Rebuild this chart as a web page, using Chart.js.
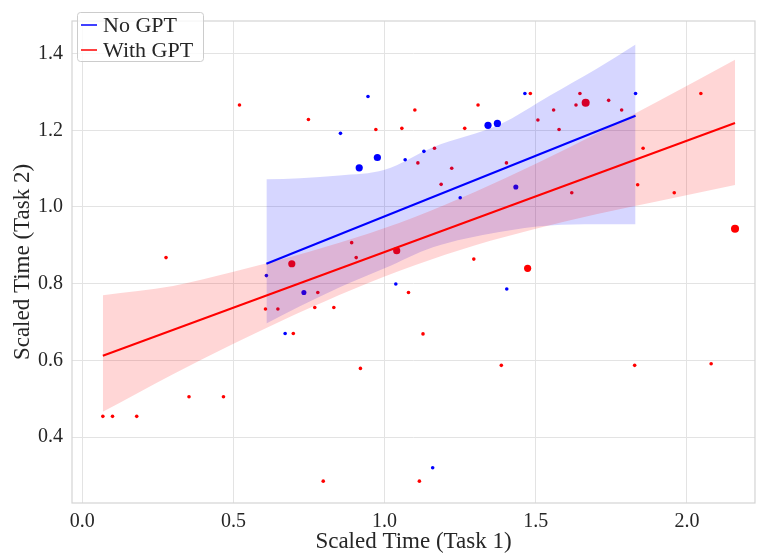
<!DOCTYPE html>
<html>
<head>
<meta charset="utf-8">
<script src="https://cdn.jsdelivr.net/npm/chart.js@4.4.1/dist/chart.umd.min.js"></script>
<style>
  body { margin: 0; background: #fff; }
  #wrap { width: 759px; height: 557px; }
</style>
</head>
<body>
<div id="wrap"><canvas id="scatterTasks"></canvas></div>
<script>
// scaled times
const noGptX = [0.945, 0.854, 1.464, 1.342, 1.373, 0.976, 0.916, 1.068, 1.130, 1.434, 1.250, 1.830, 0.609, 0.733, 0.671, 1.037, 1.404, 1.159];
const noGptY = [1.288, 1.192, 1.296, 1.213, 1.218, 1.129, 1.102, 1.123, 1.145, 1.052, 1.024, 1.296, 0.821, 0.777, 0.670, 0.799, 0.786, 0.320];
const noGptW = [1, 1, 1, 4, 4, 4, 4, 1, 1, 2, 1, 1, 1, 2, 1, 1, 1, 1];

const withGptX = [0.520, 0.748, 0.971, 1.057, 1.100, 1.309, 1.482, 1.265, 1.507, 1.165, 1.110, 1.222, 1.187, 1.403,
                  1.646, 1.633, 1.665, 1.741, 1.559, 1.784, 2.046, 1.577, 1.855, 1.837, 1.619, 1.958, 0.277, 0.693,
                  0.606, 0.647, 0.698, 0.891, 0.906, 1.040, 1.295, 1.473, 0.779, 0.769, 0.832, 1.079, 1.127, 0.920,
                  1.386, 2.159, 1.827, 2.080, 0.068, 0.100, 0.180, 0.353, 0.467, 0.797, 1.115];
const withGptY = [1.266, 1.228, 1.202, 1.205, 1.253, 1.266, 1.296, 1.205, 1.227, 1.153, 1.115, 1.101, 1.059, 1.115,
                  1.296, 1.266, 1.272, 1.278, 1.253, 1.253, 1.296, 1.202, 1.153, 1.058, 1.037, 1.037, 0.868, 0.852,
                  0.734, 0.734, 0.670, 0.907, 0.868, 0.886, 0.864, 0.840, 0.777, 0.738, 0.738, 0.777, 0.669, 0.579,
                  0.587, 0.943, 0.587, 0.591, 0.454, 0.454, 0.454, 0.505, 0.505, 0.285, 0.285];
const withGptW = [1, 1, 1, 1, 1, 1, 1, 1, 1, 1, 1, 1, 1, 1,
                  1, 1, 5, 1, 1, 1, 1, 1, 1, 1, 1, 1, 1, 4,
                  1, 1, 1, 1, 1, 4, 1, 4, 1, 1, 1, 1, 1, 1,
                  1, 5, 1, 1, 1, 1, 1, 1, 1, 1, 1];

// regression fits
const noGptFitX = [0.609, 1.830];
const noGptFitY = [0.852, 1.238];
const withGptFitX = [0.068, 2.159];
const withGptFitY = [0.612, 1.219];

// confidence bands
const noGptBandX = [0.609, 0.720, 0.850, 1.000, 1.160, 1.380, 1.547, 1.700, 1.830];
const noGptUpper = [1.072, 1.075, 1.082, 1.097, 1.156, 1.215, 1.291, 1.360, 1.424];
const noGptLower = [0.696, 0.741, 0.790, 0.840, 0.895, 0.935, 0.952, 0.955, 0.955];

const withGptBandX = [0.068, 0.300, 0.500, 0.700, 0.900, 1.100, 1.300, 1.500, 1.700, 1.900, 2.159];
const withGptUpper = [0.770, 0.794, 0.831, 0.872, 0.919, 0.974, 1.040, 1.113, 1.191, 1.274, 1.384];
const withGptLower = [0.466, 0.564, 0.643, 0.718, 0.787, 0.848, 0.900, 0.943, 0.981, 1.014, 1.057];

const xTicks = [0.0, 0.5, 1.0, 1.5, 2.0];
const yTicks = [0.4, 0.6, 0.8, 1.0, 1.2, 1.4];

const legendNames = ["No GPT", "With GPT"];

let pts = (xs, ys) => xs.map((x, i) => ({x: x, y: ys[i]}));
let radii = (ws) => ws.map(w => 1.8 * Math.sqrt(w));

const FONT = "'Liberation Serif', 'DejaVu Serif', serif";
const TEXT = "#262626";

let bandSet = (xs, ys, color, fill, order) => ({
    type: 'line',
    data: pts(xs, ys),
    borderWidth: 0,
    borderColor: 'rgba(0,0,0,0)',
    backgroundColor: color,
    pointRadius: 0,
    fill: fill,
    cubicInterpolationMode: 'monotone',
    order: order
});

const frameAndLegend = {
    id: 'frameAndLegend',
    beforeDatasetsDraw(chart) {
        const a = chart.chartArea, ctx = chart.ctx;
        ctx.save();
        ctx.strokeStyle = '#d4d4d4';
        ctx.lineWidth = 1.2;
        ctx.strokeRect(a.left, a.top, a.right - a.left, a.bottom - a.top);
        ctx.restore();
    },
    afterDraw(chart) {
        const ctx = chart.ctx;
        const bx = 77, by = 12, bw = 126, bh = 49;
        ctx.save();
        ctx.fillStyle = 'rgba(255,255,255,0.8)';
        ctx.strokeStyle = '#cccccc';
        ctx.lineWidth = 1;
        ctx.beginPath();
        ctx.roundRect(bx + 0.5, by + 0.5, bw, bh, 3);
        ctx.fill();
        ctx.stroke();
        const colors = ['#0000ff', '#ff0000'];
        ctx.font = "22px " + FONT;
        ctx.textBaseline = 'middle';
        ctx.fillStyle = TEXT;
        legendNames.forEach(function (name, i) {
            const yy = by + 13 + i * 25;
            ctx.strokeStyle = colors[i];
            ctx.lineWidth = 1.5;
            ctx.beginPath();
            ctx.moveTo(bx + 4, yy);
            ctx.lineTo(bx + 20, yy);
            ctx.stroke();
            ctx.fillText(name, bx + 26, yy + 1);
        });
        ctx.restore();
    }
};

var ctx = document.getElementById("scatterTasks").getContext('2d');
var chart = new Chart(ctx, {
    type: 'scatter',
    data: {
        datasets: [
            {
                label: legendNames[0],
                data: pts(noGptX, noGptY),
                backgroundColor: '#0000ff',
                borderWidth: 0,
                pointRadius: radii(noGptW),
                order: 6
            },
            {
                label: legendNames[1],
                data: pts(withGptX, withGptY),
                backgroundColor: '#ff0000',
                borderWidth: 0,
                pointRadius: radii(withGptW),
                order: 5
            },
            bandSet(noGptBandX, noGptUpper, 'rgba(0,0,255,0.16)', '+1', 4),
            bandSet(noGptBandX, noGptLower, 'rgba(0,0,255,0.16)', false, 4),
            bandSet(withGptBandX, withGptUpper, 'rgba(255,0,0,0.16)', '+1', 3),
            bandSet(withGptBandX, withGptLower, 'rgba(255,0,0,0.16)', false, 3),
            {
                type: 'line',
                data: pts(noGptFitX, noGptFitY),
                borderColor: '#0000ff',
                borderWidth: 2,
                pointRadius: 0,
                fill: false,
                order: 2
            },
            {
                type: 'line',
                data: pts(withGptFitX, withGptFitY),
                borderColor: '#ff0000',
                borderWidth: 2,
                pointRadius: 0,
                fill: false,
                order: 1
            }
        ]
    },
    options: {
        responsive: true,
        maintainAspectRatio: false,
        animation: false,
        layout: { padding: { top: 7, right: 3, left: 0, bottom: 0 } },
        plugins: {
            legend: { display: false },
            tooltip: { enabled: false }
        },
        scales: {
            x: {
                type: 'linear',
                min: -0.034,
                max: 2.225,
                afterBuildTicks: function (scale) {
                    scale.ticks = xTicks.map(v => ({value: v}));
                },
                afterFit: function (scale) { scale.height = 54; },
                grid: { color: '#e3e3e3', lineWidth: 1, drawTicks: false },
                border: { display: false },
                ticks: {
                    padding: 7,
                    color: TEXT,
                    font: { family: FONT, size: 20 },
                    callback: v => v.toFixed(1)
                },
                title: {
                    display: true,
                    text: 'Scaled Time (Task 1)',
                    color: TEXT,
                    font: { family: FONT, size: 23 },
                    padding: { top: 0, bottom: 1 }
                }
            },
            y: {
                type: 'linear',
                min: 0.228,
                max: 1.485,
                afterBuildTicks: function (scale) {
                    scale.ticks = yTicks.map(v => ({value: v}));
                },
                afterFit: function (scale) { scale.width = 72; },
                grid: { color: '#e3e3e3', lineWidth: 1, drawTicks: false },
                border: { display: false },
                ticks: {
                    padding: 9,
                    color: TEXT,
                    font: { family: FONT, size: 20 },
                    callback: v => v.toFixed(1)
                },
                title: {
                    display: true,
                    text: 'Scaled Time (Task 2)',
                    color: TEXT,
                    font: { family: FONT, size: 23 },
                    padding: { top: 9, bottom: 0 }
                }
            }
        }
    },
    plugins: [frameAndLegend]
});
</script>
</body>
</html>
